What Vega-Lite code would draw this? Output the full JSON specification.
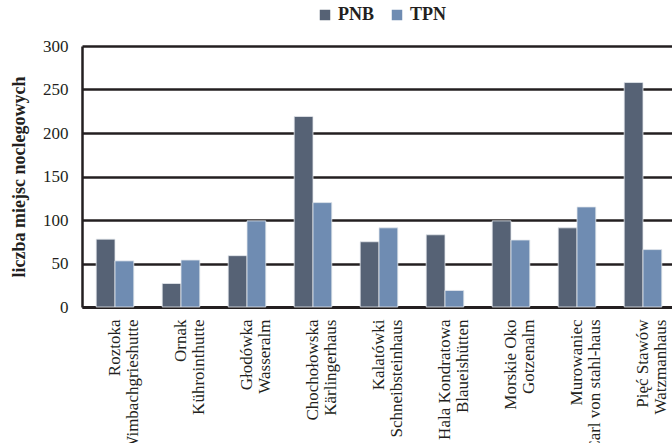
{
  "$schema": "https://vega.github.io/schema/vega-lite/v6.json",
  "autosize": {"type": "none"},
  "width": 594,
  "height": 261,
  "padding": {"left": 82, "top": 46, "right": 0, "bottom": 136},
  "background": "white",
  "config": {
    "view": {"stroke": null},
    "font": "Liberation Serif",
    "axis": {"labelFont": "Liberation Serif", "titleFont": "Liberation Serif"},
    "legend": {"labelFont": "Liberation Serif"}
  },
  "data": {
    "values": [
      {"hut": "Roztoka|Wimbachgrieshutte", "park": "PNB", "value": 78},
      {"hut": "Roztoka|Wimbachgrieshutte", "park": "TPN", "value": 53},
      {"hut": "Ornak|Kührointhutte", "park": "PNB", "value": 27},
      {"hut": "Ornak|Kührointhutte", "park": "TPN", "value": 54},
      {"hut": "Głodówka|Wasseralm", "park": "PNB", "value": 59},
      {"hut": "Głodówka|Wasseralm", "park": "TPN", "value": 99},
      {"hut": "Chochołowska|Kärlingerhaus", "park": "PNB", "value": 219},
      {"hut": "Chochołowska|Kärlingerhaus", "park": "TPN", "value": 120},
      {"hut": "Kalatówki|Schneibsteinhaus", "park": "PNB", "value": 75},
      {"hut": "Kalatówki|Schneibsteinhaus", "park": "TPN", "value": 91},
      {"hut": "Hala Kondratowa|Blaueishütten", "park": "PNB", "value": 83},
      {"hut": "Hala Kondratowa|Blaueishütten", "park": "TPN", "value": 19},
      {"hut": "Morskie Oko|Gotzenalm", "park": "PNB", "value": 99},
      {"hut": "Morskie Oko|Gotzenalm", "park": "TPN", "value": 77},
      {"hut": "Murowaniec|Carl von stahl-haus", "park": "PNB", "value": 91},
      {"hut": "Murowaniec|Carl von stahl-haus", "park": "TPN", "value": 115},
      {"hut": "Pięć Stawów|Watzmanhaus", "park": "PNB", "value": 258},
      {"hut": "Pięć Stawów|Watzmanhaus", "park": "TPN", "value": 66}
    ]
  },
  "mark": {"type": "bar", "stroke": "#e4e8ee", "strokeWidth": 0.8},
  "encoding": {
    "x": {
      "field": "hut",
      "type": "nominal",
      "sort": null,
      "scale": {"paddingInner": 0.43, "paddingOuter": 0.215},
      "axis": {
        "title": null,
        "labelExpr": "split(datum.label, '|')",
        "labelAngle": -90,
        "labelAlign": "right",
        "labelBaseline": "middle",
        "labelFont": "Liberation Serif",
        "labelFontSize": 17,
        "labelLineHeight": 18,
        "labelColor": "#231f20",
        "labelPadding": 12,
        "labelLimit": 0,
        "ticks": false,
        "domainColor": "#231f20",
        "domainWidth": 3
      }
    },
    "xOffset": {"field": "park", "type": "nominal", "sort": ["PNB", "TPN"]},
    "y": {
      "field": "value",
      "type": "quantitative",
      "scale": {"domain": [0, 300], "nice": false},
      "axis": {
        "title": "liczba miejsc noclegowych",
        "titleFont": "Liberation Serif",
        "titleFontSize": 18,
        "titleFontWeight": "bold",
        "titleColor": "#231f20",
        "titlePadding": 14,
        "values": [0, 50, 100, 150, 200, 250, 300],
        "labelFont": "Liberation Serif",
        "labelFontSize": 17,
        "labelColor": "#231f20",
        "labelPadding": 14,
        "ticks": false,
        "domainColor": "#231f20",
        "domainWidth": 2.5,
        "gridColor": "#231f20",
        "gridWidth": 2.5
      }
    },
    "color": {
      "field": "park",
      "type": "nominal",
      "sort": ["PNB", "TPN"],
      "scale": {"domain": ["PNB", "TPN"], "range": ["#566275", "#6f8cb2"]},
      "legend": {
        "title": null,
        "orient": "none",
        "legendX": 234,
        "legendY": -40,
        "direction": "horizontal",
        "symbolType": "square",
        "symbolSize": 110,
        "symbolStrokeWidth": 0,
        "labelFont": "Liberation Serif",
        "labelFontSize": 18,
        "labelFontWeight": "bold",
        "labelColor": "#231f20",
        "columnPadding": 14,
        "padding": 0
      }
    }
  }
}
